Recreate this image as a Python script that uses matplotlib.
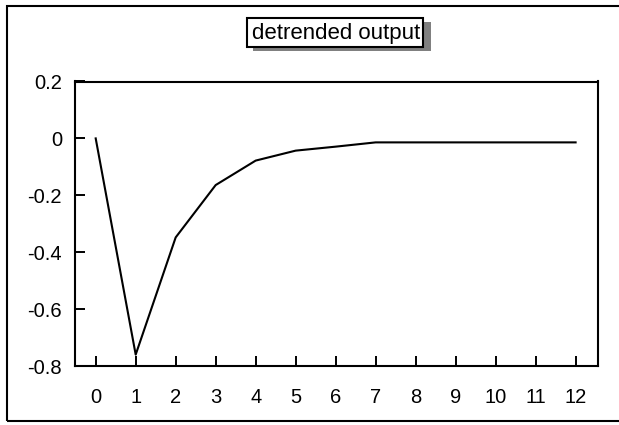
import numpy as np
import matplotlib.pyplot as plt
from matplotlib.patches import Rectangle

plt.rcParams['font.family'] = ['Liberation Sans', 'DejaVu Sans']

periods = [0, 1, 2, 3, 4, 5, 6, 7, 8, 9, 10, 11, 12]
output = [0.0, -0.76, -0.348, -0.164, -0.078, -0.043, -0.029, -0.014,
          -0.014, -0.014, -0.014, -0.014, -0.014]
yticks = [0.2, 0, -0.2, -0.4, -0.6, -0.8]
ytick_labels = ['0.2', '0', '-0.2', '-0.4', '-0.6', '-0.8']

W, H = 619, 425
fig = plt.figure(figsize=(W / 100, H / 100), dpi=100)
# axes box in pixels: left 74.5, right 598, top 81.5, bottom 366
ax = fig.add_axes([74.5 / W, 1 - 366 / H, (598 - 74.5) / W, (366 - 81.5) / H])

ax.plot(periods, output, color='black', lw=1.5)
ax.set_xlim(-0.53, 12.56)
ax.set_ylim(-0.8, 0.2)
ax.set_xticks(periods)
ax.set_xticklabels([str(p) for p in periods])
ax.set_yticks(yticks)
ax.set_yticklabels(ytick_labels)
ax.tick_params(axis='both', direction='in', length=7.5, width=1.4, labelsize=14.5,
               color='black')
ax.tick_params(axis='x', pad=16)
ax.tick_params(axis='y', pad=9)
for s in ax.spines.values():
    s.set_linewidth(1.5)

# outer frame (right side runs off the picture)
fig.patches.append(Rectangle((7 / W, 1 - 421 / H), 700 / W, (421 - 6) / H,
                             transform=fig.transFigure, fill=False,
                             edgecolor='black', lw=1.5))

# title box with grey drop shadow
fig.patches.append(Rectangle((253 / W, 1 - 51 / H), (431 - 253) / W, (51 - 22) / H,
                             transform=fig.transFigure, facecolor='#808080',
                             edgecolor='none'))
fig.patches.append(Rectangle((247 / W, 1 - 46.5 / H), (423 - 247) / W, (46.5 - 17.5) / H,
                             transform=fig.transFigure, facecolor='white',
                             edgecolor='black', lw=1.5))
fig.text(336 / W, 1 - 33.5 / H, 'detrended output', ha='center', va='center',
         fontsize=16)

fig.savefig('out.png', dpi=100)
